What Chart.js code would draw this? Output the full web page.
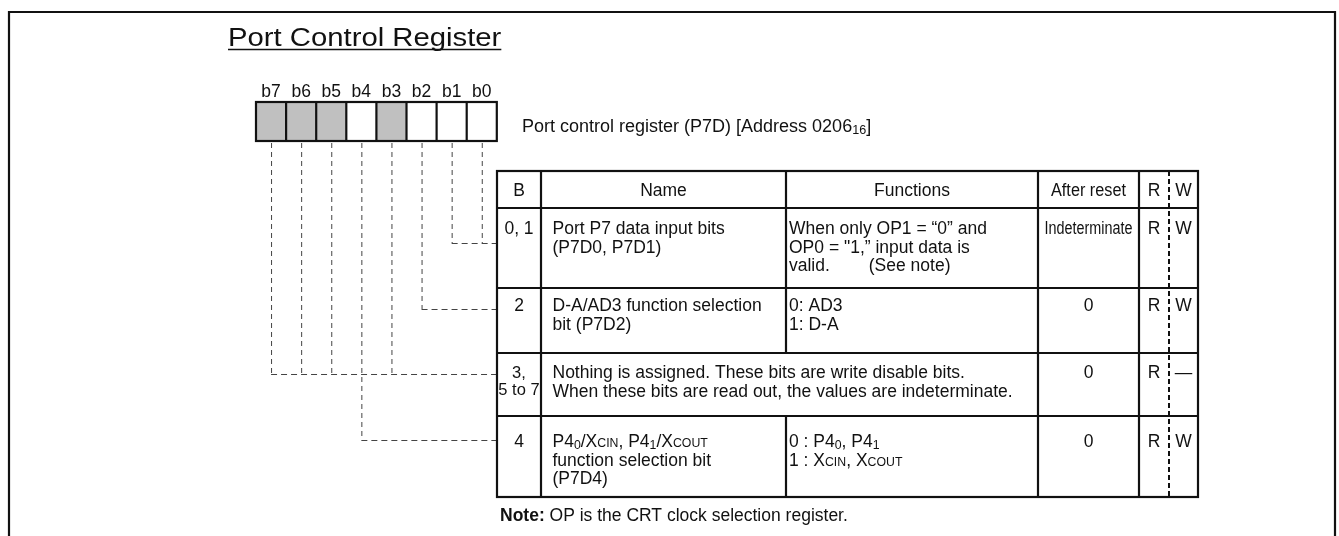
<!DOCTYPE html>
<html>
<head>
<meta charset="utf-8">
<script src="https://cdn.jsdelivr.net/npm/chart.js@4.4.0/dist/chart.umd.min.js"></script>
<style>
  html, body { margin: 0; padding: 0; background: #fff; overflow: hidden; }
  canvas { display: block; }
</style>
</head>
<body>
<canvas id="P7D-Chart" width="1339" height="536"></canvas>
<script>
// register content (markup: _{x} subscript, ^{x} small caps)
var titleText = 'Port Control Register';
var registerText = 'Port control register (P7D) [Address 0206_{16}]';
var bitLabels = ['b7', 'b6', 'b5', 'b4', 'b3', 'b2', 'b1', 'b0'];
var bitReserved = [1, 1, 1, 0, 1, 0, 0, 0];
var bitRow = [2, 2, 2, 3, 2, 1, 0, 0];   // which table row each bit points at
var headers = ['B', 'Name', 'Functions', 'After reset', 'R', 'W'];
var rowBits = [['0, 1'], ['2'], ['3,', '5 to 7'], ['4']];
var rowNames = [
  ['Port P7 data input bits', '(P7D0, P7D1)'],
  ['D-A/AD3 function selection', 'bit (P7D2)'],
  ['Nothing is assigned. These bits are write disable bits.', 'When these bits are read out, the values are indeterminate.'],
  ['P4_{0}/X^{CIN}, P4_{1}/X^{COUT}', 'function selection bit', '(P7D4)']
];
var rowFunctions = [
  ['When only OP1 = \u201c0\u201d and', 'OP0 = "1,\u201d input data is', 'valid.        (See note)'],
  ['0: AD3', '1: D-A'],
  null,
  ['0 : P4_{0}, P4_{1}', '1 : X^{CIN}, X^{COUT}']
];
var rowReset = ['Indeterminate', '0', '0', '0'];
var rowRead = ['R', 'R', 'R', 'R'];
var rowWrite = ['W', 'W', '\u2014', 'W'];
var noteLabel = 'Note:';
var noteText = ' OP is the CRT clock selection register.';

// layout (page units, mapped through the chart scales)
var FONT = '"Liberation Sans", Arial, Helvetica, sans-serif';
var SIZE = 17.5;
var frame = { left: 9, top: 12, right: 1335 };
var bitBox = { left: 256, width: 30.1, top: 102, bottom: 141, labelY: 91 };
var cols = [497, 541, 786, 1038, 1139, 1198];
var rwSplit = 1169;
var rows = [171, 208, 288, 353, 416, 497];
var firstLine = [19, 20, 17, 19, 25];
var lineH = 18.3;
var linkY = [243, 309, 374, 440];

function parseRich(s) {
  var out = [], re = /_\{([^}]*)\}|\^\{([^}]*)\}/g, last = 0, m;
  while ((m = re.exec(s))) {
    if (m.index > last) out.push({ t: s.slice(last, m.index), k: 'n' });
    out.push(m[1] !== undefined ? { t: m[1], k: 'sub' } : { t: m[2], k: 'sc' });
    last = re.lastIndex;
  }
  if (last < s.length) out.push({ t: s.slice(last), k: 'n' });
  return out;
}

function segFont(k, size, bold) {
  var s = k === 'n' ? size : size * 0.7;
  return (bold ? 'bold ' : '') + s.toFixed(1) + 'px ' + FONT;
}

function drawRich(ctx, s, x, y, size, align, opts) {
  opts = opts || {};
  var segs = parseRich(s), w = 0;
  segs.forEach(function (g) { ctx.font = segFont(g.k, size, opts.bold); g.w = ctx.measureText(g.t).width; w += g.w; });
  var sx = opts.sx || 1;
  if (opts.maxW && w * sx > opts.maxW) sx = opts.maxW / w;
  var x0 = align === 'center' ? x - w * sx / 2 : x;
  var base = y + size * 0.36;
  ctx.save();
  ctx.translate(x0, 0);
  ctx.scale(sx, 1);
  var cx = 0;
  segs.forEach(function (g) {
    ctx.font = segFont(g.k, size, opts.bold);
    ctx.textAlign = 'left';
    ctx.textBaseline = 'alphabetic';
    ctx.fillText(g.t, cx, g.k === 'sub' ? base + size * 0.1 : base);
    cx += g.w;
  });
  ctx.restore();
  return w * sx;
}

var registerPlugin = {
  id: 'register_diagram',
  afterDraw: function (chart) {
    var ctx = chart.ctx, sx = chart.scales.x, sy = chart.scales.y;
    var X = function (v) { return sx.getPixelForValue(v); };
    var Y = function (v) { return sy.getPixelForValue(v); };
    ctx.save();
    ctx.fillStyle = '#111';
    ctx.strokeStyle = '#111';

    // outer frame (open at the bottom)
    ctx.lineWidth = 2.2;
    ctx.beginPath();
    ctx.moveTo(X(frame.left), Y(536));
    ctx.lineTo(X(frame.left), Y(frame.top));
    ctx.lineTo(X(frame.right), Y(frame.top));
    ctx.lineTo(X(frame.right), Y(536));
    ctx.stroke();

    // title
    var tw = drawRich(ctx, titleText, X(228), Y(37), 25.5, 'left', { sx: 1.148 });
    ctx.lineWidth = 1.6;
    ctx.beginPath();
    ctx.moveTo(X(228), Y(49.5));
    ctx.lineTo(X(228) + tw, Y(49.5));
    ctx.stroke();

    // bit boxes
    bitLabels.forEach(function (lab, i) {
      var l = bitBox.left + i * bitBox.width;
      if (bitReserved[i]) {
        ctx.fillStyle = '#c0c0c0';
        ctx.fillRect(X(l), Y(bitBox.top), X(l + bitBox.width) - X(l), Y(bitBox.bottom) - Y(bitBox.top));
      }
      ctx.fillStyle = '#111';
      drawRich(ctx, lab, X(l + bitBox.width / 2), Y(bitBox.labelY), SIZE, 'center');
    });
    ctx.lineWidth = 2.2;
    ctx.strokeRect(X(bitBox.left), Y(bitBox.top), X(bitBox.left + 8 * bitBox.width) - X(bitBox.left), Y(bitBox.bottom) - Y(bitBox.top));
    for (var i = 1; i < 8; i++) {
      var bx = X(bitBox.left + i * bitBox.width);
      ctx.beginPath(); ctx.moveTo(bx, Y(bitBox.top)); ctx.lineTo(bx, Y(bitBox.bottom)); ctx.stroke();
    }
    drawRich(ctx, registerText, X(522), Y(125.5), 18, 'left');

    // dashed links from bits to rows
    ctx.save();
    ctx.strokeStyle = '#444';
    ctx.lineWidth = 1;
    ctx.setLineDash([5, 4]);
    var leftMost = {};
    bitRow.forEach(function (r, i) {
      var cx = bitBox.left + (i + 0.5) * bitBox.width;
      ctx.beginPath();
      ctx.moveTo(X(cx) + 0.5, Y(bitBox.bottom + 2));
      ctx.lineTo(X(cx) + 0.5, Y(linkY[r]));
      ctx.stroke();
      if (leftMost[r] === undefined || cx < leftMost[r]) leftMost[r] = cx;
    });
    ctx.setLineDash([6, 4]);
    Object.keys(leftMost).forEach(function (r) {
      ctx.beginPath();
      ctx.moveTo(X(leftMost[r]), Y(linkY[r]) + 0.5);
      ctx.lineTo(X(cols[0]), Y(linkY[r]) + 0.5);
      ctx.stroke();
    });
    ctx.restore();

    // table grid
    ctx.lineWidth = 2.2;
    ctx.strokeRect(X(cols[0]), Y(rows[0]), X(cols[5]) - X(cols[0]), Y(rows[5]) - Y(rows[0]));
    for (var r = 1; r < rows.length - 1; r++) {
      ctx.beginPath(); ctx.moveTo(X(cols[0]), Y(rows[r])); ctx.lineTo(X(cols[5]), Y(rows[r])); ctx.stroke();
    }
    [1, 2, 3, 4].forEach(function (c) {
      for (var r = 0; r < rows.length - 1; r++) {
        if (c === 2 && r > 0 && rowFunctions[r - 1] === null) continue;
        ctx.beginPath(); ctx.moveTo(X(cols[c]), Y(rows[r])); ctx.lineTo(X(cols[c]), Y(rows[r + 1])); ctx.stroke();
      }
    });
    ctx.save();
    ctx.setLineDash([5, 3]);
    ctx.lineWidth = 2;
    ctx.beginPath(); ctx.moveTo(X(rwSplit), Y(rows[0])); ctx.lineTo(X(rwSplit), Y(rows[5])); ctx.stroke();
    ctx.restore();

    // header
    var hy = Y(rows[0] + firstLine[0]);
    drawRich(ctx, headers[0], X((cols[0] + cols[1]) / 2), hy, SIZE, 'center');
    drawRich(ctx, headers[1], X((cols[1] + cols[2]) / 2), hy, SIZE, 'center');
    drawRich(ctx, headers[2], X((cols[2] + cols[3]) / 2), hy, SIZE, 'center');
    drawRich(ctx, headers[3], X((cols[3] + cols[4]) / 2), hy, SIZE, 'center', { maxW: 75 });
    drawRich(ctx, headers[4], X((cols[4] + rwSplit) / 2), hy, SIZE, 'center');
    drawRich(ctx, headers[5], X((rwSplit + cols[5]) / 2), hy, SIZE, 'center');

    // body rows
    for (var k = 0; k < rowBits.length; k++) {
      var top = rows[k + 1] + firstLine[k + 1];
      rowBits[k].forEach(function (t, j) {
        var small = rowBits[k].length > 1;
        drawRich(ctx, t, X((cols[0] + cols[1]) / 2), Y(top + j * (small ? 17.5 : lineH)), small ? 16.5 : SIZE, 'center');
      });
      rowNames[k].forEach(function (t, j) {
        drawRich(ctx, t, X(cols[1] + 11.5), Y(top + j * lineH), SIZE, 'left');
      });
      if (rowFunctions[k]) {
        rowFunctions[k].forEach(function (t, j) {
          drawRich(ctx, t, X(cols[2] + 3), Y(top + j * lineH), SIZE, 'left');
        });
      }
      drawRich(ctx, rowReset[k], X((cols[3] + cols[4]) / 2), Y(top), SIZE, 'center', { maxW: 88 });
      drawRich(ctx, rowRead[k], X((cols[4] + rwSplit) / 2), Y(top), SIZE, 'center');
      drawRich(ctx, rowWrite[k], X((rwSplit + cols[5]) / 2), Y(top), SIZE, 'center');
    }

    // note
    var nw = drawRich(ctx, noteLabel, X(500), Y(515), 17.5, 'left', { bold: true });
    drawRich(ctx, noteText, X(500) + nw, Y(515), 17.5, 'left');
    ctx.restore();
  }
};

var regCanvas = document.getElementById('P7D-Chart').getContext('2d');
var chart = new Chart(regCanvas, {
  type: 'scatter',
  data: { datasets: [] },
  plugins: [registerPlugin],
  options: {
    responsive: false,
    animation: false,
    events: [],
    layout: { padding: 0 },
    plugins: {
      legend: { display: false },
      tooltip: { enabled: false }
    },
    scales: {
      x: { type: 'linear', min: 0, max: 1339, display: false },
      y: { type: 'linear', min: 0, max: 536, reverse: true, display: false }
    }
  }
});
</script>
</body>
</html>
